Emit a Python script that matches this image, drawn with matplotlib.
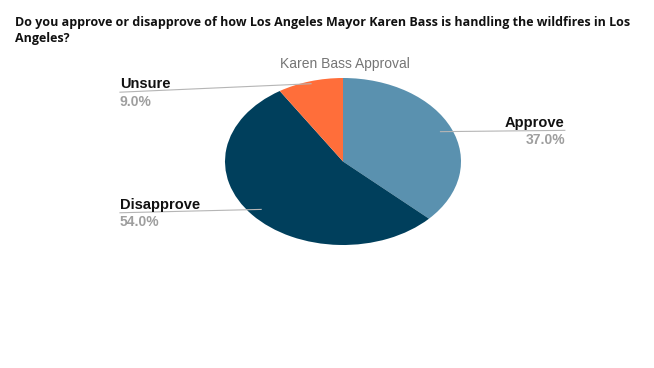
import numpy as np
import matplotlib
matplotlib.use("Agg")
import matplotlib.pyplot as plt

labels = ["Approve", "Disapprove", "Unsure"]
values = [37.0, 54.0, 9.0]
colors = ["#5A91AF", "#003F5C", "#FF6E3A"]

question = ("Do you approve or disapprove of how Los Angeles Mayor Karen Bass is handling the wildfires in Los\n"
            "Angeles?")
title = "Karen Bass Approval"

fig = plt.figure(figsize=(6.54, 3.68), dpi=100)
fig.patch.set_facecolor("white")

fig.text(15 / 654, 1 - 16 / 368, question, ha="left", va="top", fontsize=9,
         fontweight="bold", family="Open Sans", color="#111111", linespacing=1.3)
fig.text(345 / 654, 1 - 64 / 368, title, ha="center", va="center", fontsize=10,
         family="Liberation Sans", color="#757575")

ax = fig.add_axes([225 / 654, 123 / 368, 236 / 654, 167 / 368])
wedges, _ = ax.pie(values, colors=colors, startangle=90, counterclock=False,
                   wedgeprops=dict(linewidth=0))
ax.set_aspect("auto")
ax.set_xlim(-1, 1)
ax.set_ylim(-1, 1)
ax.axis("off")

# label positions (axes data units), one per slice
label_x = [1.88, -1.89, -1.89]
line_y = [0.373, -0.614, 0.83]
anchor_r = [0.9, 0.9, 0.97]
ha = ["right", "left", "left"]

start = 90.0
for i, (lab, v) in enumerate(zip(labels, values)):
    mid = np.deg2rad(start - v * 3.6 / 2)
    start -= v * 3.6
    ax0, ay0 = anchor_r[i] * np.cos(mid), anchor_r[i] * np.sin(mid)
    ax.plot([ax0, label_x[i]], [ay0, line_y[i]], color="#b5b5b5", lw=0.8,
            clip_on=False, zorder=3)
    ax.text(label_x[i], line_y[i] + 0.01, lab, ha=ha[i], va="bottom", fontsize=10.5,
            fontweight="bold", family="Liberation Sans", color="#111111")
    ax.text(label_x[i], line_y[i] - 0.03, "%.1f%%" % v, ha=ha[i], va="top",
            fontsize=10, fontweight="bold", family="Liberation Sans", color="#9e9e9e")

fig.savefig("out.png", dpi=100)
